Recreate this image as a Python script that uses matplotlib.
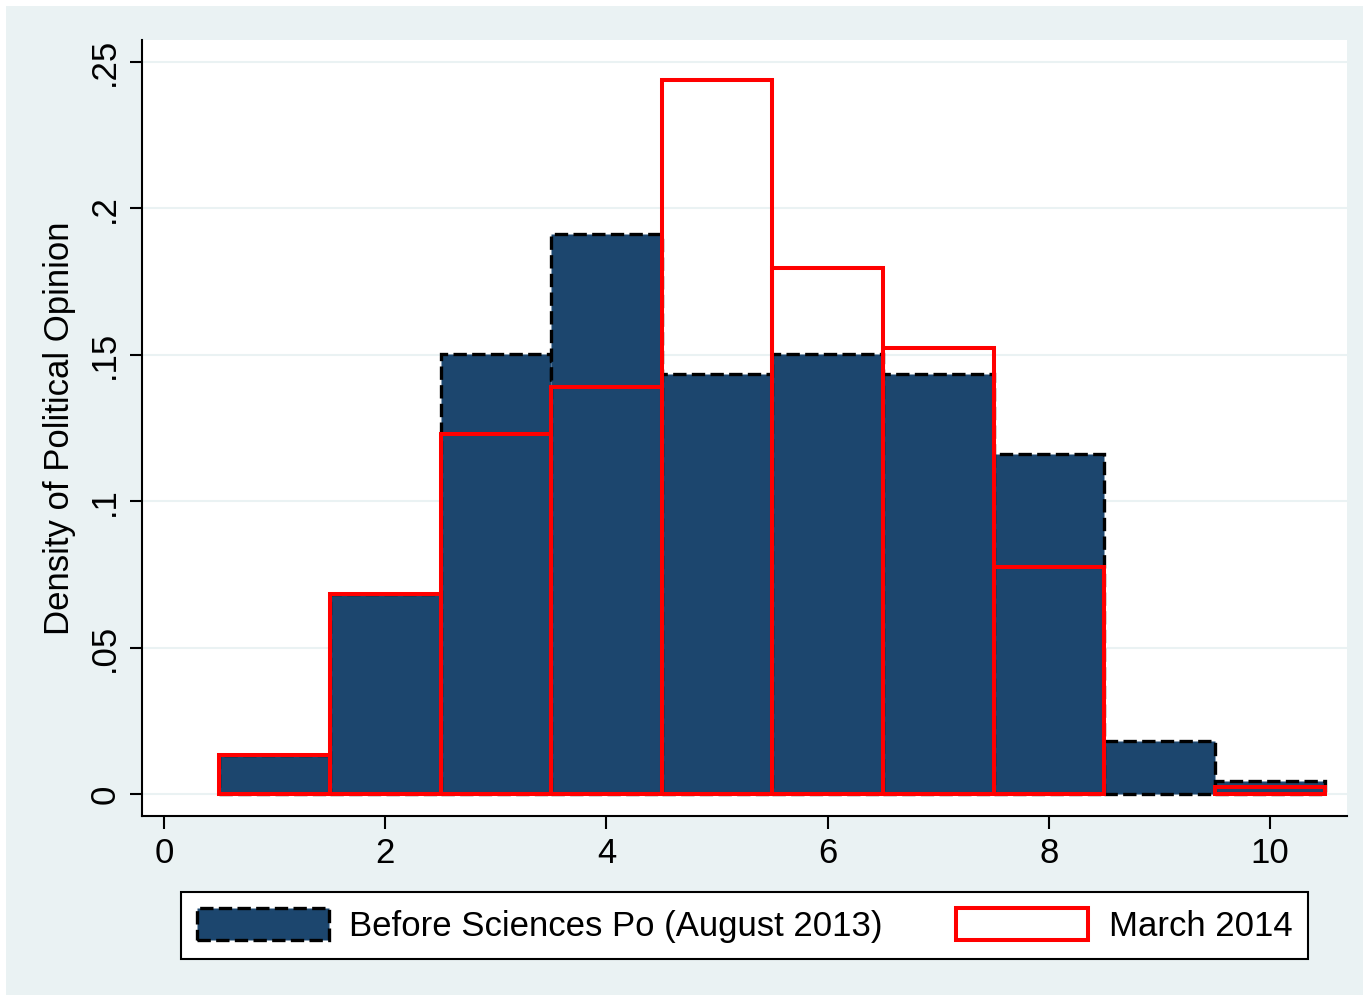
import matplotlib.pyplot as plt
from matplotlib.patches import Rectangle, Patch

bins = [1, 2, 3, 4, 5, 6, 7, 8, 9, 10]
before = [0.0133, 0.0683, 0.1503, 0.1913, 0.1434, 0.1503, 0.1434, 0.1161, 0.0181, 0.0044]
march = [0.0133, 0.0683, 0.1230, 0.1390, 0.2439, 0.1796, 0.1523, 0.0775, 0.0, 0.0024]
xticks = [0, 2, 4, 6, 8, 10]
yticks = [0, 0.05, 0.1, 0.15, 0.2, 0.25]
ylabels = ['0', '.05', '.1', '.15', '.2', '.25']

plt.rcParams['font.family'] = ['Liberation Sans', 'DejaVu Sans']
navy = '#1c466e'
bg = '#eaf2f3'

fig = plt.figure(figsize=(13.69, 10.01), dpi=100)
fig.patches.append(Rectangle((6 / 1369, 6 / 1001), 1357 / 1369, 989 / 1001,
                             transform=fig.transFigure, facecolor=bg, edgecolor='none', zorder=-10))

ax = fig.add_axes([142 / 1369, 1 - 816 / 1001, (1347 - 142) / 1369, (816 - 40) / 1001])
ax.set_facecolor('white')

ax.bar(bins, before, width=1, color=navy, edgecolor='black', linewidth=2.4,
       linestyle=(0, (4, 1.6)), zorder=2)
mb = [b for b, v in zip(bins, march) if v > 0]
mv = [v for v in march if v > 0]
ax.bar(mb, mv, width=1, fill=False, edgecolor='#ff0000', linewidth=2.9, zorder=3)

ax.set_xlim(-0.199, 10.696)
ax.set_ylim(-0.0075, 0.2575)
ax.set_xticks(xticks)
ax.set_yticks(yticks)
ax.set_yticklabels(ylabels, rotation=90, va='center')
ax.tick_params(labelsize=25, length=9, width=1.5, direction='out', pad=6)
ax.grid(axis='y', color=bg, linewidth=1.5, zorder=0)
ax.set_axisbelow(True)
for s in ['top', 'right']:
    ax.spines[s].set_visible(False)
for s in ['left', 'bottom']:
    ax.spines[s].set_linewidth(1.5)
ax.set_ylabel('Density of Political Opinion', fontsize=25, labelpad=9)

h1 = Patch(facecolor=navy, edgecolor='black', linestyle=(0, (4, 1.6)), linewidth=2.4)
h2 = Patch(facecolor='white', edgecolor='#ff0000', linewidth=2.9)
leg = fig.legend([h1, h2], ['Before Sciences Po (August 2013)', 'March 2014'],
                 ncol=2, fontsize=25, loc='center',
                 bbox_to_anchor=((182 + 1307) / 2 / 1369, 1 - 925.5 / 1001),
                 handlelength=3.8, handleheight=1.05, handletextpad=0.6,
                 columnspacing=2.1, borderpad=0.45, borderaxespad=0,
                 fancybox=False, frameon=True, framealpha=1)
leg.get_frame().set_edgecolor('black')
leg.get_frame().set_linewidth(1.5)

plt.savefig('out.png', dpi=100)
